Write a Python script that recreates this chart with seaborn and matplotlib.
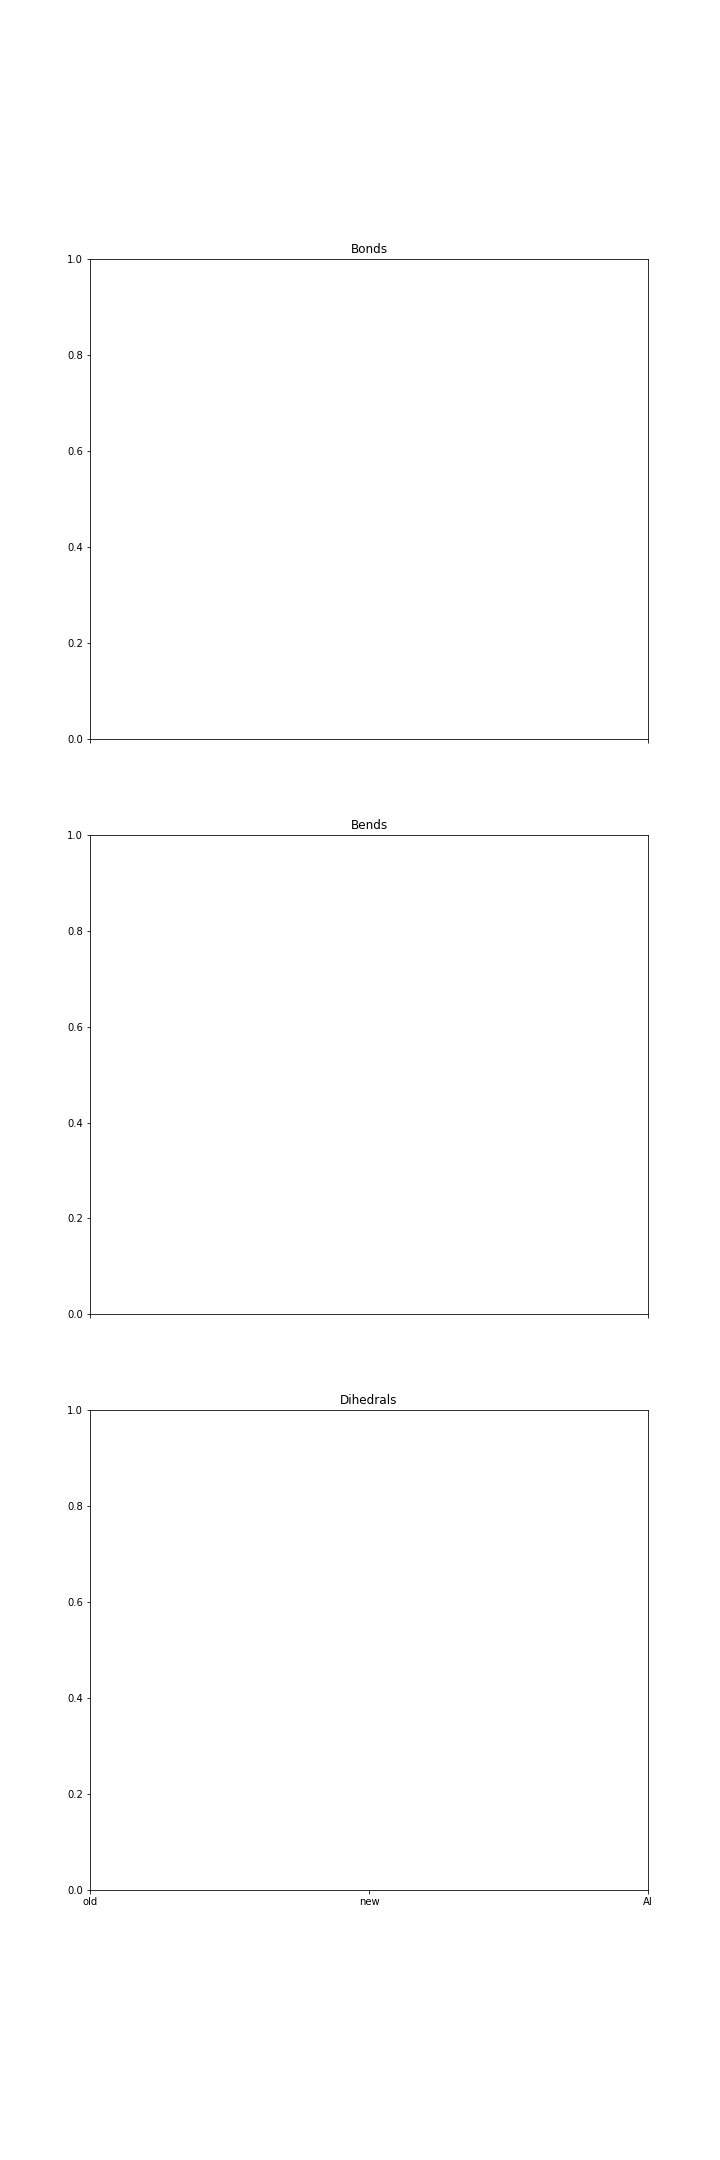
import matplotlib
matplotlib.use("Agg")
import matplotlib.pyplot as plt
import seaborn as sns
import pandas as pd

# categories on the x axis
methods = ["old", "new", "AI"]

# one panel per term type
panels = ["Bonds", "Bends", "Dihedrals"]

# no values were plotted in the source figure
bond_values = []
bend_values = []
dihedral_values = []

series = [bond_values, bend_values, dihedral_values]

fig, axes = plt.subplots(3, 1, figsize=(10, 30), dpi=72)
fig.subplots_adjust(bottom=0.125)

for i, (ax, title, vals) in enumerate(zip(axes, panels, series)):
    df = pd.DataFrame({"method": pd.Series(vals, dtype=object),
                       "value": pd.Series(vals, dtype=float)})
    if len(df):
        sns.lineplot(data=df, x="method", y="value", ax=ax)
    ax.set_title(title)
    ax.set_xlim(0, len(methods) - 1)
    ax.set_ylim(0, 1)
    if i == len(panels) - 1:
        ax.set_xticks(range(len(methods)))
        ax.set_xticklabels(methods)
    else:
        # upper panels only show end ticks, no labels
        ax.set_xticks([0, len(methods) - 1])
        ax.set_xticklabels([])
    ax.set_xlabel("")
    ax.set_ylabel("")

fig.savefig("out.png", dpi=72)
